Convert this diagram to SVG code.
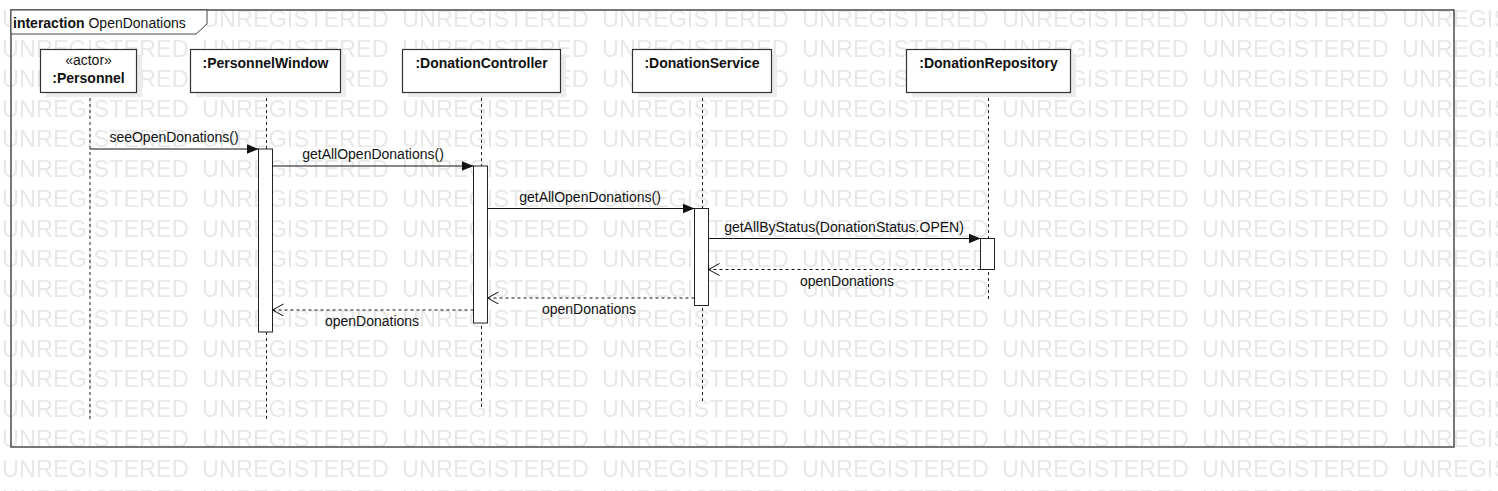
<svg xmlns="http://www.w3.org/2000/svg" width="1498" height="491" viewBox="0 0 1498 491">
<style>
.wm{font-family:"Liberation Sans",Arial,sans-serif;font-size:23.5px;fill:#e8e8e8}
.box{fill:#fff;stroke:#333;stroke-width:1.2}
.shadow{fill:#ececec}
.name{font-family:"Liberation Sans",Arial,sans-serif;font-size:14px;font-weight:bold;fill:#111;text-anchor:middle}
.ster{font-family:"Liberation Sans",Arial,sans-serif;font-size:14px;fill:#111;text-anchor:middle}
.life{stroke:#222;stroke-width:1;stroke-dasharray:3,3;fill:none}
.act{fill:#fff;stroke:#222;stroke-width:1}
.msg{stroke:#111;stroke-width:1;fill:none}
.ret{stroke:#111;stroke-width:1;fill:none;stroke-dasharray:3,3}
.lbl{font-family:"Liberation Sans",Arial,sans-serif;font-size:14px;fill:#111;text-anchor:middle}
</style>
<defs>
<pattern id="wmp" x="0" y="0" width="200" height="30" patternUnits="userSpaceOnUse">
<text class="wm" x="2" y="27">UNREGISTERED</text>
</pattern>
<marker id="fill" markerUnits="userSpaceOnUse" markerWidth="13" markerHeight="11" refX="12" refY="5" orient="auto">
<path d="M0,0 L12,5 L0,10 Z" fill="#111"/>
</marker>
<marker id="open" markerUnits="userSpaceOnUse" markerWidth="13" markerHeight="13" refX="11" refY="6" orient="auto">
<path d="M0,0 L11,6 L0,12" fill="none" stroke="#111" stroke-width="1"/>
</marker>
</defs>
<rect width="1498" height="491" fill="#fff"/>
<rect width="1498" height="491" fill="url(#wmp)"/>

<g id="frame">
<rect x="11" y="10" width="1443" height="437" fill="none" stroke="#555" stroke-width="1.6"/>
<path d="M11,10 H207 V24 L196,34 H11 Z" fill="#fff" stroke="#444" stroke-width="1"/>
<text x="13" y="28" font-family="'Liberation Sans',Arial,sans-serif" font-size="14" fill="#111"><tspan font-weight="bold">interaction</tspan> OpenDonations</text>
</g>

<g id="lifelines">
<line class="life" x1="90" y1="92" x2="90" y2="420"/>
<line class="life" x1="266.5" y1="92" x2="266.5" y2="420"/>
<line class="life" x1="481.5" y1="92" x2="481.5" y2="408"/>
<line class="life" x1="702.5" y1="92" x2="702.5" y2="402"/>
<line class="life" x1="988.5" y1="92" x2="988.5" y2="302"/>
</g>

<g id="personnel">
<rect class="shadow" x="46" y="54" width="96" height="43"/>
<rect class="box" x="40.5" y="49.5" width="96" height="43"/>
<text class="ster" x="88.5" y="65">«actor»</text>
<text class="name" x="88.5" y="83">:Personnel</text>
</g>

<g id="personnelWindow">
<rect class="shadow" x="196" y="54" width="150" height="43"/>
<rect class="box" x="190.5" y="49.5" width="150" height="43"/>
<text class="name" x="265.5" y="68">:PersonnelWindow</text>
<rect class="act" x="258.5" y="149" width="14" height="183"/>
</g>

<g id="donationController">
<rect class="shadow" x="408" y="54" width="158" height="43"/>
<rect class="box" x="402.5" y="49.5" width="158" height="43"/>
<text class="name" x="481.5" y="68">:DonationController</text>
<rect class="act" x="473.5" y="166" width="14" height="157"/>
</g>

<g id="donationService">
<rect class="shadow" x="638" y="54" width="139" height="43"/>
<rect class="box" x="632.5" y="49.5" width="139" height="43"/>
<text class="name" x="702" y="68">:DonationService</text>
<rect class="act" x="694.5" y="208.5" width="14" height="97"/>
</g>

<g id="donationRepository">
<rect class="shadow" x="912" y="54" width="164" height="43"/>
<rect class="box" x="906.5" y="49.5" width="164" height="43"/>
<text class="name" x="988.5" y="68">:DonationRepository</text>
<rect class="act" x="980.5" y="238.5" width="14" height="31"/>
</g>

<g id="connectors">
<line class="msg" x1="90" y1="149" x2="258.5" y2="149" marker-end="url(#fill)"/>
<text class="lbl" x="174" y="142">seeOpenDonations()</text>
<line class="msg" x1="272.5" y1="166" x2="473.5" y2="166" marker-end="url(#fill)"/>
<text class="lbl" x="373" y="159">getAllOpenDonations()</text>
<line class="msg" x1="487.5" y1="208.5" x2="694.5" y2="208.5" marker-end="url(#fill)"/>
<text class="lbl" x="590" y="202">getAllOpenDonations()</text>
<line class="msg" x1="708.5" y1="238.5" x2="980.5" y2="238.5" marker-end="url(#fill)"/>
<text class="lbl" x="844" y="232">getAllByStatus(DonationStatus.OPEN)</text>
<line class="ret" x1="980.5" y1="269.5" x2="708.5" y2="269.5" marker-end="url(#open)"/>
<text class="lbl" x="847" y="286">openDonations</text>
<line class="ret" x1="694.5" y1="298" x2="487.5" y2="298" marker-end="url(#open)"/>
<text class="lbl" x="589" y="314">openDonations</text>
<line class="ret" x1="473.5" y1="310" x2="272.5" y2="310" marker-end="url(#open)"/>
<text class="lbl" x="372" y="326">openDonations</text>
</g>
</svg>
